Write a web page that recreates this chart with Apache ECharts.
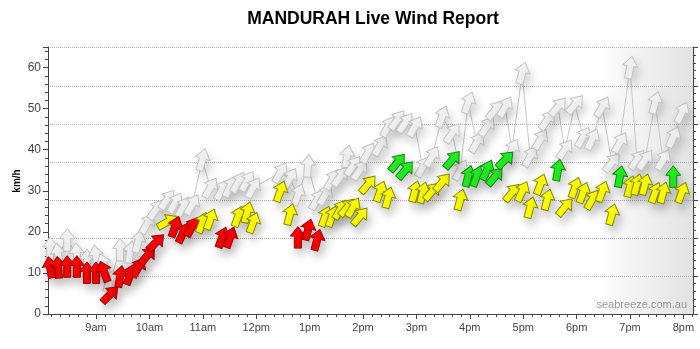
<!DOCTYPE html>
<html><head><meta charset="utf-8">
<script src="https://cdn.jsdelivr.net/npm/echarts@6/dist/echarts.min.js"></script>
<style>html,body{margin:0;padding:0;background:#fff}#c{width:700px;height:349px}</style>
</head><body><div id="c"></div>
<script>
// time of each reading (decimal hours)
const times = [8.14,8.29,8.46,8.64,8.83,9.0,9.15,9.26,9.45,9.64,
  9.79,9.96,10.12,10.33,10.48,10.63,10.80,10.99,11.14,11.36,
  11.51,11.66,11.83,11.94,12.45,12.63,12.78,12.97,13.14,13.29,
  13.42,13.57,13.70,13.81,13.94,14.09,14.32,14.47,14.64,14.79,
  14.97,15.12,15.29,15.48,15.67,15.82,15.97,16.13,16.32,16.47,
  16.66,16.79,16.98,17.13,17.32,17.45,17.65,17.78,17.97,18.12,
  18.29,18.48,18.66,18.81,19.0,19.13,19.28,19.47,19.62,19.81,19.97];
// average wind speed km/h
const avgSpeed = [11.3,11.3,11.5,11.5,10,10,10.3,4.7,9.1,9.6,
  11.3,14.2,17.4,22.4,21.2,19.7,21.2,22.2,23,18.6,
  18.6,23.7,24.7,22.2,29.8,24.2,18.6,20.5,18,23.7,
  23.7,25.4,25.9,25.9,23.7,31.5,29.8,28.3,36.8,35,
  29.8,29.5,29.8,32,37.5,27.8,33.5,33.5,35,33.4,
  37.5,29.5,29.8,25.9,31.5,27.8,35,26,30.7,29.5,
  27.8,29.8,24.2,33.4,31,31.5,31.5,29.5,29.5,33.4,29.5];
// arrow heading of average wind (deg clockwise from up)
const avgDir = [-10,-5,0,0,0,0,-20,45,10,20,
  30,40,45,60,20,25,30,20,20,20,
  20,20,15,20,20,15,0,15,15,20,
  20,30,40,30,40,40,20,15,40,40,
  15,15,40,40,40,15,15,20,25,40,
  45,40,25,15,20,15,10,40,20,20,
  30,20,15,10,15,15,15,20,15,0,20];
// gust speed km/h
const gustSpeed = [16,14.5,18,14.5,13,14,12,8,15.6,15,
  17.6,22,25.4,27.8,27,26,26.6,37.5,30.7,30.2,
  31,32,32.3,30.7,34.4,33,29,36,27.8,29,
  32.7,33.4,38.3,36,35,39.2,41,45.6,47.2,46.5,
  45.6,35.8,38.3,48,44,35,51.4,41.7,45.6,49.6,
  50.4,40,58.6,38.3,42.5,47.2,50.4,40,51,43,
  42.5,50.4,36.8,41.7,60,37.5,37.5,51.4,37.5,43,49];
const gustDir = [0,-10,0,-5,0,-10,-20,20,0,10,
  15,30,35,35,30,30,30,15,30,30,
  25,30,30,30,30,30,20,5,30,30,
  30,35,10,35,35,30,30,30,35,35,
  30,30,30,20,35,30,20,30,35,40,
  30,25,15,30,30,35,40,35,40,30,
  25,30,40,30,10,35,35,15,30,25,25];
const hourTicks = [9,10,11,12,13,14,15,16,17,18,19,20];
const hourLabels = ['9am','10am','11am','12pm','1pm','2pm','3pm','4pm','5pm','6pm','7pm','8pm'];

const minorTicks = [];
for (let m = 8*60+10; m <= 20*60+10; m += 10) minorTicks.push(m/60);

const ARROW = [[0,-11],[7.5,-1.5],[3.5,-1.5],[3.5,10.5],[-3.5,10.5],[-3.5,-1.5],[-7.5,-1.5]];
const GARROW = [[0,-11.5],[7.5,-1.5],[3.5,-1.5],[3.5,11],[-3.5,11],[-3.5,-1.5],[-7.5,-1.5]];

function colorFor(v){
  if (v >= 33) return ['#22ee22','#0a8a0a'];
  if (v >= 22) return ['#ffff00','#8a8a00'];
  return ['#ff0000','#a00000'];
}
function makeRender(gray){
  return function(params, api){
    const p = api.coord([api.value(0), api.value(1)]);
    const rot = -api.value(2) * Math.PI / 180;
    const c = gray ? ['#f3f3f3','#c4c4c4'] : colorFor(api.value(1));
    return {
      type: 'polygon', x: p[0], y: p[1], rotation: rot,
      shape: {points: gray ? GARROW : ARROW},
      style: {fill: c[0], stroke: c[1], lineWidth: 1,
        shadowColor: gray ? 'rgba(0,0,0,0.16)' : 'rgba(0,0,0,0.22)',
        shadowBlur: 9, shadowOffsetX: 3, shadowOffsetY: 6}
    };
  };
}

const chart = echarts.init(document.getElementById('c'), null, {renderer: 'canvas'});
const KMH_MAX = 65;
chart.setOption({
  backgroundColor: '#ffffff',
  animation: false,
  grid: {left: 48, right: 7, top: 47, bottom: 35, containLabel: false, outerBoundsMode: 'none'},
  graphic: [
    {type: 'rect', z: -10, shape: {x: 595, y: 47, width: 98, height: 267},
     style: {fill: {type: 'linear', x: 0, y: 0, x2: 1, y2: 0,
       colorStops: [{offset: 0, color: 'rgba(226,226,226,0)'}, {offset: 1, color: 'rgba(226,226,226,1)'}]}}},
    {type: 'text', x: 373, y: 19, z: 10,
     style: {text: 'MANDURAH Live Wind Report', font: 'bold 17.5px "Liberation Sans", Arial, sans-serif',
       fill: '#000', textAlign: 'center', textVerticalAlign: 'middle'}},
    {type: 'text', x: 17, y: 181, rotation: Math.PI/2, z: 10,
     style: {text: 'km/h', font: 'bold 10px "Liberation Sans", Arial, sans-serif',
       fill: '#000', textAlign: 'center', textVerticalAlign: 'middle'}},
    {type: 'text', x: 687, y: 305, z: 10,
     style: {text: 'seabreeze.com.au', font: '11px "Liberation Sans", Arial, sans-serif',
       fill: '#9a9a9a', textAlign: 'right', textVerticalAlign: 'middle'}}
  ],
  xAxis: [
    {type: 'value', min: 8.1, max: 20.18, position: 'bottom',
     axisLine: {show: true, lineStyle: {color: '#444', width: 1}},
     axisTick: {show: true, customValues: hourTicks, length: 5, lineStyle: {color: '#444'}},
     axisLabel: {show: true, customValues: hourTicks, margin: 8, color: '#444',
       fontSize: 11, fontFamily: '"Liberation Sans", Arial, sans-serif',
       formatter: v => hourLabels[hourTicks.indexOf(Math.round(v))]},
     splitLine: {show: false}},
    {type: 'value', min: 8.1, max: 20.18, position: 'bottom',
     axisLine: {show: false},
     axisTick: {show: true, customValues: minorTicks, length: 3, lineStyle: {color: '#444'}},
     axisLabel: {show: false}, splitLine: {show: false}}
  ],
  yAxis: [
    {type: 'value', position: 'left', min: 0, max: KMH_MAX, interval: 10,
     axisLine: {show: true, lineStyle: {color: '#444'}},
     axisTick: {show: true, length: 5, lineStyle: {color: '#444'}},
     minorTick: {show: true, splitNumber: 5, length: 3, lineStyle: {color: '#444'}},
     axisLabel: {color: '#444', fontSize: 12, margin: 7, showMaxLabel: false,
       fontFamily: '"Liberation Sans", Arial, sans-serif'},
     splitLine: {show: false}},
    {type: 'value', position: 'right', min: 0, max: KMH_MAX/1.852, interval: 5,
     axisLine: {show: true, lineStyle: {color: '#444'}},
     axisTick: {show: true, length: 5, lineStyle: {color: '#444'}},
     minorTick: {show: true, splitNumber: 5, length: 3, lineStyle: {color: '#444'}},
     axisLabel: {color: '#444', fontSize: 12, margin: 7, showMaxLabel: false,
       fontFamily: '"Liberation Sans", Arial, sans-serif'},
     splitLine: {show: true, lineStyle: {color: '#b0b0b0', type: 'dotted', width: 1}}}
  ],
  series: [
    {type: 'line', xAxisIndex: 0, yAxisIndex: 0, z: 2, symbol: 'none', silent: true,
     lineStyle: {color: '#c8c8c8', width: 1},
     data: times.map((t, i) => [t, gustSpeed[i]])},
    {type: 'custom', xAxisIndex: 0, yAxisIndex: 0, z: 3, clip: false,
     renderItem: makeRender(true),
     data: times.map((t, i) => [t, gustSpeed[i], gustDir[i]])},
    {type: 'custom', xAxisIndex: 0, yAxisIndex: 0, z: 4, clip: false,
     renderItem: makeRender(false),
     data: times.map((t, i) => [t, avgSpeed[i], avgDir[i]])}
  ]
});
</script>
</body></html>
